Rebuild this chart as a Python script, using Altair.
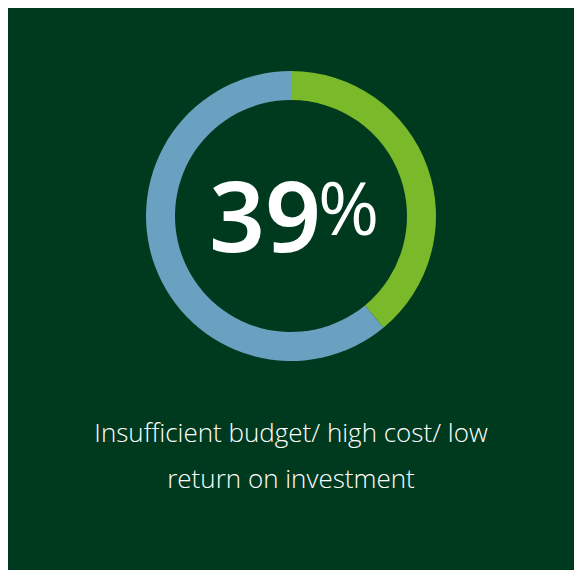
import altair as alt
import pandas as pd

segments = ["Insufficient budget", "Other"]
shares = [39, 61]
seg_colors = ["#7ab929", "#6aa0c0"]
big_number = "39"
percent_sign = "%"
caption_lines = ["Insufficient budget/ high cost/ low", "return on investment"]

BG = "#003a1e"
W, H = 566, 562
CX, CY = 283, 208

df = pd.DataFrame({"segment": segments, "share": shares, "order": [0, 1]})

arc = alt.Chart(df).mark_arc(outerRadius=145, innerRadius=116, stroke=None).encode(
    theta=alt.Theta("share:Q", stack=True),
    order=alt.Order("order:Q"),
    color=alt.Color("segment:N", scale=alt.Scale(domain=segments, range=seg_colors), legend=None),
    x=alt.value(CX),
    y=alt.value(CY),
)

num = alt.Chart(pd.DataFrame({"t": [big_number]})).mark_text(
    font="Noto Sans", fontSize=98, fontWeight=600, color="white", align="right", baseline="alphabetic"
).encode(text="t:N", x=alt.value(CX + 30), y=alt.value(CY + 36))

pct = alt.Chart(pd.DataFrame({"t": [percent_sign]})).mark_text(
    font="Open Sans", fontSize=74, fontWeight="normal", color="white", align="left", baseline="alphabetic"
).encode(text="t:N", x=alt.value(CX + 27), y=alt.value(CY + 19))

cap_df = pd.DataFrame({"t": caption_lines, "i": [0, 1]})
cap = alt.Chart(cap_df).mark_text(
    font="Open Sans", fontSize=26, fontWeight=300, color="white", align="center", baseline="alphabetic"
).encode(
    text="t:N",
    x=alt.value(CX),
    y=alt.Y("i:Q", scale=alt.Scale(domain=[0, 1], range=[434, 480]), axis=None),
)

chart = alt.layer(arc, num, pct, cap).properties(
    width=W, height=H, background=BG, padding=0, autosize=alt.AutoSizeParams(type="none")
).configure_view(stroke=None)

chart.save("out.html", embed_options={"renderer": "svg", "actions": False})
